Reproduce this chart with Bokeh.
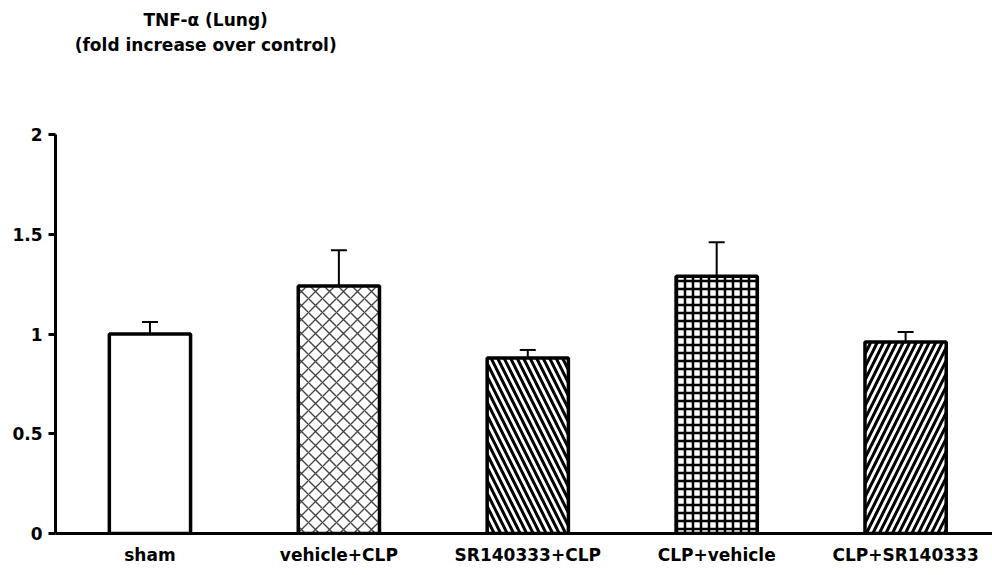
from bokeh.plotting import figure
from bokeh.layouts import column
from bokeh.models import Range1d, FixedTicker, Whisker, TeeHead, ColumnDataSource, Label
from bokeh.embed import file_html
from bokeh.resources import INLINE

groups = ["sham", "vehicle+CLP", "SR140333+CLP", "CLP+vehicle", "CLP+SR140333"]
means = [1.00, 1.24, 0.88, 1.29, 0.96]
err_up = [0.06, 0.18, 0.04, 0.17, 0.05]
y_ticks = [0, 0.5, 1, 1.5, 2]
y_tick_labels = ["0", "0.5", "1", "1.5", "2"]
title_lines = ["TNF-\u03b1 (Lung)", "(fold increase over control)"]

# styles (not data)
hatches = [" ", "x", "\\", "+", "/"]
hatch_scales = [12, 14, 13, 8, 13]
hatch_weights = [1, 1.4, 3, 2.5, 3]
hatch_colors = ["black", "#444444", "black", "black", "black"]

FONT = "DejaVu Sans"

# ---- title strip (a separate, axis-less figure above the chart) ----
tf = figure(width=992, height=60, output_backend="svg", toolbar_location=None,
            x_range=Range1d(0, 992), y_range=Range1d(60, 0),
            x_axis_type=None, y_axis_type=None, min_border=0)
tf.outline_line_color = None
tf.xgrid.visible = False
tf.ygrid.visible = False
for txt, yy in zip(title_lines, [19, 44]):
    tf.add_layout(Label(x=159, y=yy, text=txt, text_align="center",
                        text_baseline="middle", text_font=FONT,
                        text_font_style="bold", text_font_size="17px",
                        text_color="black"))

# ---- main chart ----
xs = list(range(len(groups)))
src = ColumnDataSource(dict(
    x=xs, top=means,
    upper=[m + e for m, e in zip(means, err_up)],
    hatch=hatches, hs=hatch_scales, hw=hatch_weights, hc=hatch_colors,
))

p = figure(width=992, height=515, output_backend="svg", toolbar_location=None,
           x_range=Range1d(-0.5, 4.46), y_range=Range1d(0, 2),
           min_border_left=55, min_border_right=0, min_border_top=74,
           min_border_bottom=42)
p.outline_line_color = None
p.xgrid.visible = False
p.ygrid.visible = False

p.vbar(x="x", top="top", bottom=0, width=0.43, source=src,
       fill_color="white", line_color="black", line_width=3.5,
       hatch_pattern="hatch", hatch_scale="hs", hatch_weight="hw",
       hatch_color="hc")

wh = Whisker(base="x", lower="top", upper="upper", source=src,
             line_color="black", line_width=2,
             upper_head=TeeHead(size=16, line_width=2, line_color="black"),
             lower_head=None)
p.add_layout(wh)

for ax in (p.xaxis[0], p.yaxis[0]):
    ax.axis_line_width = 3
    ax.axis_line_color = "black"
    ax.major_label_text_font = FONT
    ax.major_label_text_font_style = "bold"
    ax.major_label_text_color = "black"
    ax.major_label_text_font_size = "17px"
    ax.minor_tick_line_color = None

p.yaxis.ticker = FixedTicker(ticks=y_ticks)
p.yaxis.major_label_overrides = {t: l for t, l in zip(y_ticks, y_tick_labels)}
p.yaxis.major_tick_line_width = 3
p.yaxis.major_tick_out = 7
p.yaxis.major_tick_in = 0
p.yaxis.major_label_standoff = 6

p.xaxis.ticker = FixedTicker(ticks=xs)
p.xaxis.major_label_overrides = {i: g for i, g in enumerate(groups)}
p.xaxis.major_tick_line_color = None
p.xaxis.major_tick_out = 0
p.xaxis.major_tick_in = 0
p.xaxis.major_label_standoff = 11

layout = column(tf, p, spacing=0)
open("out.html", "w").write(file_html(layout, INLINE))
